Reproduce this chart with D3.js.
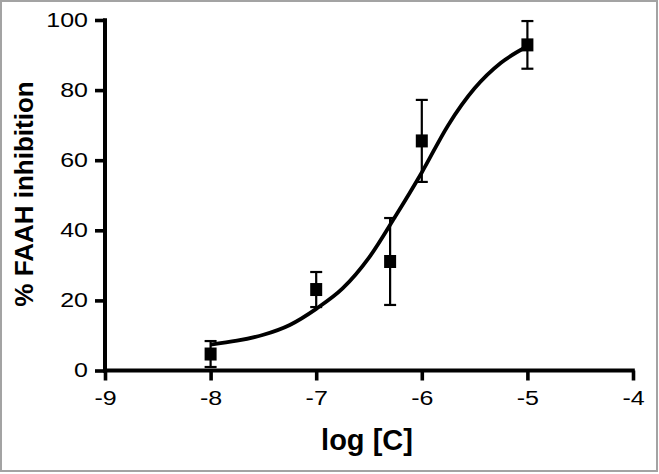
<!DOCTYPE html>
<html><head><meta charset="utf-8">
<script src="https://cdn.jsdelivr.net/npm/d3@7"></script>
<style>html,body{margin:0;padding:0;background:#fff;}svg{display:block;}</style>
</head><body>
<svg id="chart" width="659" height="474"></svg>
<script>
// Data points (log concentration, mean % inhibition, error)
const logC = [-8, -7, -6.3, -6, -5];
const inhibition = [4.7, 23.1, 31.1, 65.5, 92.9];
const errorSEM = [3.7, 5.0, 12.4, 11.7, 6.8];
// Fitted curve
const curveX = [-8, -7.75, -7.5, -7.25, -7, -6.75, -6.5, -6.25, -6, -5.75, -5.5, -5.25, -5];
const curveY = [7.4, 8.5, 10.2, 13.0, 17.6, 23.4, 32.2, 44.0, 56.5, 70.0, 80.5, 87.8, 92.5];
// Ticks
const xTicks = [-9, -8, -7, -6, -5, -4];
const yTicks = [0, 20, 40, 60, 80, 100];

const svg = d3.select("#chart");
svg.append("rect").attr("x",1).attr("y",1).attr("width",656).attr("height",470)
  .attr("fill","#fff").attr("stroke","#a3a3a3").attr("stroke-width",2);

const x = d3.scaleLinear().domain([-9,-4]).range([105,633]);
const y = d3.scaleLinear().domain([0,100]).range([370.5,20]);
const font = "'Liberation Sans', Arial, sans-serif";
const SX = 1.25;

const xAxis = svg.append("g").attr("transform",`translate(0,${y(0)})`)
  .call(d3.axisBottom(x).tickValues(xTicks).tickFormat(d=>d<0?"-"+Math.abs(d):d).tickSize(10).tickPadding(10).tickSizeOuter(0));
const yAxis = svg.append("g").attr("transform",`translate(${x(-9)},0)`)
  .call(d3.axisLeft(y).tickValues(yTicks).tickSize(10).tickPadding(7).tickSizeOuter(0));
[xAxis,yAxis].forEach(g=>{
  g.select(".domain").attr("stroke","#000").attr("stroke-width",4);
  g.selectAll(".tick line").attr("stroke","#000").attr("stroke-width",3.6);
  g.selectAll(".tick text").attr("fill","#000").style("font-family",font).style("font-size","20px");
});
xAxis.selectAll(".tick text").attr("transform",`scale(${SX},1)`);
yAxis.selectAll(".tick text").each(function(){
  const t = d3.select(this);
  t.attr("x", +t.attr("x")/SX).attr("transform",`scale(${SX},1)`);
});
// extend domains to cover the corner
xAxis.select(".domain").attr("d",`M${x(-9)-2},0H${x(-4)+1.8}`);
yAxis.select(".domain").attr("d",`M0,${y(100)-1.8}V${y(0)+2}`);

// curve
const line = d3.line().x(d=>x(d[0])).y(d=>y(d[1])).curve(d3.curveMonotoneX);
svg.append("path").datum(curveX.map((v,i)=>[v,curveY[i]]))
  .attr("d",line).attr("fill","none").attr("stroke","#000").attr("stroke-width",3.8);

// error bars
const pts = logC.map((v,i)=>({x:v,y:inhibition[i],e:errorSEM[i]}));
const eb = svg.append("g").attr("stroke","#000").attr("stroke-width",2.2);
pts.forEach(p=>{
  const cx = x(p.x);
  eb.append("line").attr("x1",cx).attr("x2",cx).attr("y1",y(p.y+p.e)).attr("y2",y(Math.max(0,p.y-p.e)));
  eb.append("line").attr("x1",cx-6).attr("x2",cx+6).attr("y1",y(p.y+p.e)).attr("y2",y(p.y+p.e));
  eb.append("line").attr("x1",cx-6).attr("x2",cx+6).attr("y1",y(p.y-p.e)).attr("y2",y(p.y-p.e));
});
svg.append("g").selectAll("rect").data(pts).join("rect")
  .attr("x",d=>x(d.x)-6).attr("y",d=>y(d.y)-6.5).attr("width",12).attr("height",13).attr("fill","#000");

// titles
svg.append("text").attr("x",367).attr("y",450).attr("text-anchor","middle")
  .style("font-family",font).style("font-weight","bold").style("font-size","29px").text("log [C]");
svg.append("text").attr("transform",`translate(33,194) rotate(-90)`).attr("text-anchor","middle")
  .style("font-family",font).style("font-weight","bold").style("font-size","26px").text("% FAAH inhibition");
</script>
</body></html>
